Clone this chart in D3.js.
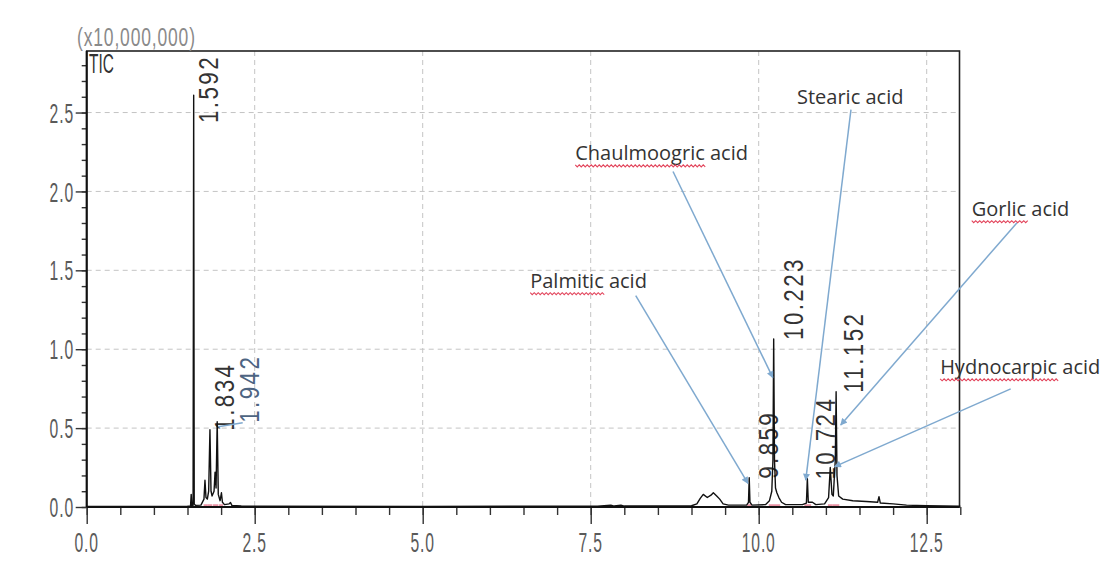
<!DOCTYPE html>
<html><head><meta charset="utf-8">
<script src="https://cdn.jsdelivr.net/npm/d3@7"></script>
<style>body{margin:0;background:#fff}svg{display:block}</style>
</head><body><svg id="c" width="1101" height="562"></svg>
<script>
// ---------- data ----------
const xTickValues = [0, 2.5, 5, 7.5, 10, 12.5];
const xTickLabels = ["0.0", "2.5", "5.0", "7.5", "10.0", "12.5"];
const yTickValues = [0, 0.5, 1, 1.5, 2, 2.5];
const yTickLabels = ["0.0", "0.5", "1.0", "1.5", "2.0", "2.5"];
const yUnitLabel = "(x10,000,000)";
const traceName = "TIC";

// chromatogram trace: retention time (min) and intensity (x10^7)
const traceRt = [0.00, 1.50, 1.545, 1.555, 1.565, 1.583, 1.592, 1.600, 1.62, 1.70,
  1.745, 1.76, 1.775, 1.795, 1.815, 1.834, 1.850, 1.865, 1.895, 1.910,
  1.925, 1.942, 1.958, 1.985, 2.005, 2.02, 2.05, 2.12, 2.14, 2.16,
  2.30, 5.00, 7.60, 7.80, 7.85, 7.95, 8.00, 9.00, 9.08, 9.13,
  9.175, 9.235, 9.29, 9.325, 9.375, 9.42, 9.47, 9.55, 9.82, 9.848,
  9.859, 9.87, 9.90, 10.10, 10.16, 10.195, 10.212, 10.223, 10.235, 10.25,
  10.27, 10.30, 10.34, 10.40, 10.65, 10.71, 10.724, 10.738, 10.80, 10.85,
  10.98, 11.04, 11.065, 11.09, 11.11, 11.14, 11.152, 11.165, 11.19, 11.25,
  11.40, 11.60, 11.77, 11.79, 11.81, 12.00, 12.20, 12.50, 13.00];
const traceIntensity = [0.004, 0.005, 0.006, 0.08, 0.01, 0.01, 2.61, 0.02, 0.01, 0.012,
  0.05, 0.17, 0.06, 0.05, 0.10, 0.49, 0.10, 0.07, 0.10, 0.22,
  0.12, 0.54, 0.08, 0.04, 0.09, 0.03, 0.015, 0.02, 0.028, 0.01,
  0.006, 0.004, 0.005, 0.012, 0.006, 0.012, 0.006, 0.008, 0.02, 0.055,
  0.08, 0.06, 0.075, 0.09, 0.07, 0.05, 0.02, 0.012, 0.012, 0.03,
  0.185, 0.03, 0.012, 0.015, 0.04, 0.10, 0.30, 1.065, 0.30, 0.12,
  0.09, 0.06, 0.03, 0.015, 0.015, 0.025, 0.18, 0.03, 0.03, 0.015,
  0.02, 0.06, 0.25, 0.08, 0.07, 0.30, 0.73, 0.20, 0.07, 0.05,
  0.04, 0.035, 0.03, 0.065, 0.025, 0.02, 0.012, 0.008, 0.005];

// labelled peaks
const peakRt = [1.592, 1.834, 1.942, 9.859, 10.223, 10.724, 11.152];
const peakHeight = [2.61, 0.49, 0.54, 0.185, 1.065, 0.18, 0.73];
const peakLabels = ["1.592", "1.834", "1.942", "9.859", "10.223", "10.724", "11.152"];

// integration baselines (start/end rt)
const integStart = [1.74, 1.80, 1.88, 1.97, 9.83, 10.15, 10.68, 11.03, 11.10];
const integEnd   = [1.80, 1.87, 1.96, 2.03, 9.89, 10.32, 10.78, 11.10, 11.20];

// compound annotations: names and the point (rt, intensity) each arrow indicates
const compoundNames = ["Palmitic acid", "Chaulmoogric acid", "Stearic acid", "Gorlic acid", "Hydnocarpic acid"];
const compoundUnderlined = ["Palmitic", "Chaulmoogric", "", "Gorlic", "Hydnocarpic"];
const compoundTargetRt = [9.84, 10.21, 10.70, 11.22, 11.13];
const compoundTargetValue = [0.15, 0.82, 0.17, 0.52, 0.256];

// ---------- layout (not data) ----------
const labelPos = [[6.60, 1.39], [7.27, 2.20], [10.57, 2.557], [13.17, 1.846], [12.70, 0.844]];
const arrowStart = [[8.17, 1.339], [8.725, 2.126], [11.373, 2.519], [13.844, 1.802], [13.75, 0.749]];
const peakLabelDx = [14, 14, 31.5, 19, 19, 17.5, 17];
const peakLabelColor = ["#333", "#333", "#4d6482", "#333", "#333", "#333", "#333"];

const L = 86.7, T = 51, B = 507;
const x = d3.scaleLinear().domain([0, 13]).range([L, L + 13 * 67.2]);
const y = d3.scaleLinear().domain([0, 2.89]).range([B, T]);
const R = 959.5;

const svg = d3.select("#c");
const sans = "'Liberation Sans', Arial, sans-serif";

// gridlines
const grid = svg.append("g").attr("stroke", "#c4c4c4").attr("stroke-width", 1).attr("stroke-dasharray", "5,4");
grid.selectAll("line.v").data(xTickValues.filter(v => v > 0)).join("line")
  .attr("x1", d => x(d)).attr("x2", d => x(d)).attr("y1", T).attr("y2", B);
grid.selectAll("line.h").data(yTickValues.filter(v => v > 0)).join("line")
  .attr("x1", L).attr("x2", R).attr("y1", d => y(d)).attr("y2", d => y(d));

// frame
svg.append("rect").attr("x", L).attr("y", T).attr("width", R - L).attr("height", B - T)
  .attr("fill", "none").attr("stroke", "#222").attr("stroke-width", 1.6);

// axes with d3 axis generators
const xMinor = d3.range(0, 13.01, 0.5);
const yMinor = d3.range(0, 2.85, 0.1);
const gx = svg.append("g").attr("transform", `translate(0,${B})`);
gx.call(d3.axisBottom(x).tickValues(xMinor).tickSize(8).tickFormat(""));
gx.append("g").call(d3.axisBottom(x).tickValues(xTickValues).tickSize(17).tickFormat(""));
const gy = svg.append("g").attr("transform", `translate(${L},0)`);
gy.call(d3.axisLeft(y).tickValues(yMinor).tickSize(5).tickFormat(""));
gy.append("g").call(d3.axisLeft(y).tickValues(yTickValues).tickSize(11).tickFormat(""));
svg.selectAll(".domain").remove();
svg.selectAll(".tick line").attr("stroke", "#333").attr("stroke-width", 1.4);
svg.append("line").attr("x1", L).attr("x2", R).attr("y1", B).attr("y2", B).attr("stroke", "#111").attr("stroke-width", 2.2);
svg.append("line").attr("x1", L).attr("x2", L).attr("y1", T).attr("y2", B).attr("stroke", "#111").attr("stroke-width", 2);

// condensed text helper
function ctext(g, str, tx, ty, opt) {
  return g.append("text")
    .attr("transform", `translate(${tx},${ty}) rotate(${opt.rot || 0}) scale(${opt.sx},1)`)
    .attr("font-family", sans).attr("font-size", opt.size)
    .attr("letter-spacing", opt.ls || 0)
    .attr("text-anchor", opt.anchor || "start")
    .attr("dominant-baseline", "central")
    .attr("fill", opt.fill || "#555").text(str);
}

const labels = svg.append("g");
xTickValues.forEach((v, i) => ctext(labels, xTickLabels[i], x(v), 543, {size: 27, sx: 0.58, ls: 1.5, anchor: "middle", fill: "#5a5a5a"}));
yTickValues.forEach((v, i) => ctext(labels, yTickLabels[i], 74, y(v) + 1, {size: 27, sx: 0.58, ls: 1.5, anchor: "end", fill: "#5a5a5a"}));
ctext(labels, yUnitLabel, 77, 37, {size: 25, sx: 0.7, ls: 1.2, fill: "#8a8a8a"});
ctext(labels, traceName, 89, 64, {size: 28, sx: 0.55, fill: "#333"});

// integration marks
svg.append("g").selectAll("line").data(integStart).join("line")
  .attr("x1", (d) => x(d)).attr("x2", (d, i) => x(integEnd[i]))
  .attr("y1", y(0.012)).attr("y2", y(0.012))
  .attr("stroke", "#e0607a").attr("stroke-width", 1.6).attr("opacity", 0.75);

// trace
const pts = traceRt.map((r, i) => [r, traceIntensity[i]]);
svg.append("path").datum(pts)
  .attr("d", d3.line().x(d => x(d[0])).y(d => y(d[1])))
  .attr("fill", "none").attr("stroke", "#111").attr("stroke-width", 1.4).attr("stroke-linejoin", "round");

// peak labels
peakRt.forEach((r, i) => {
  const cx = x(r) + peakLabelDx[i];
  const bottom = Math.max(y(peakHeight[i]) + 1, T + 72);
  ctext(labels, peakLabels[i], cx, bottom, {size: 28, sx: 0.8, ls: 3, rot: -90, fill: peakLabelColor[i]});
  if (peakLabelDx[i] > 25) {
    svg.append("line").attr("x1", x(r) + 1).attr("y1", y(peakHeight[i]) + 5)
      .attr("x2", cx - 6).attr("y2", y(peakHeight[i]) + 1)
      .attr("stroke", "#7fa9cf").attr("stroke-width", 1.5);
  }
});

// arrows
const defs = svg.append("defs");
defs.append("marker").attr("id", "ah").attr("viewBox", "0 0 10 10").attr("refX", 9).attr("refY", 5)
  .attr("markerWidth", 9).attr("markerHeight", 7).attr("markerUnits", "userSpaceOnUse")
  .attr("orient", "auto").append("path").attr("d", "M0,0L10,5L0,10z").attr("fill", "#7fa9cf");
const ann = svg.append("g");
compoundNames.forEach((n, i) => {
  ann.append("line")
    .attr("x1", x(arrowStart[i][0])).attr("y1", y(arrowStart[i][1]))
    .attr("x2", x(compoundTargetRt[i])).attr("y2", y(compoundTargetValue[i]))
    .attr("stroke", "#7fa9cf").attr("stroke-width", 1.5).attr("marker-end", "url(#ah)");
  const tx = x(labelPos[i][0]), ty = y(labelPos[i][1]);
  const t = ann.append("text").attr("x", tx).attr("y", ty)
    .attr("font-family", "'Open Sans', sans-serif").attr("font-size", 20)
    .attr("fill", "#333").text(n);
  const w = compoundUnderlined[i];
  if (w) {
    const len = t.node().getSubStringLength(0, w.length);
    let d = `M${tx},${ty + 5}`;
    for (let k = 0, s = 0; k < len; k += 2, s++) d += `L${tx + k + 2},${ty + 5 + (s % 2 ? 0 : 2)}`;
    ann.append("path").attr("d", d).attr("fill", "none").attr("stroke", "#e03a52")
      .attr("stroke-width", 1.1).attr("opacity", 0.95);
  }
});
</script></body></html>
